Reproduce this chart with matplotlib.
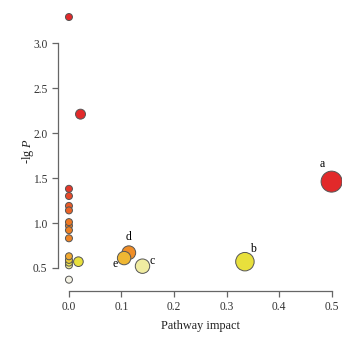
import numpy as np
import matplotlib.pyplot as plt
from matplotlib.colors import LinearSegmentedColormap, Normalize

# Pathway impact (x) and -lg P (y)
impact = [0.0, 0.022, 0.5,
          0.0, 0.0, 0.0, 0.0, 0.0, 0.0, 0.0, 0.0,
          0.0, 0.0, 0.0, 0.0, 0.0,
          0.018, 0.114, 0.105, 0.14, 0.335]
lgp = [3.29, 2.21, 1.46,
       1.38, 1.30, 1.19, 1.14, 1.01, 0.97, 0.92, 0.83,
       0.63, 0.59, 0.56, 0.53, 0.37,
       0.57, 0.67, 0.61, 0.52, 0.57]
point_labels = {2: "a", 20: "b", 19: "c", 17: "d", 18: "e"}

plt.rcParams['font.family'] = ['Liberation Serif', 'DejaVu Serif']
plt.rcParams['mathtext.fontset'] = 'custom'
plt.rcParams['mathtext.rm'] = 'Liberation Serif'
plt.rcParams['mathtext.it'] = 'Liberation Serif:italic'

fig = plt.figure(figsize=(3.62, 3.37), dpi=100)
ax = fig.add_axes([0.160, 0.1365, 0.785, 0.829])

# colour scale: white -> yellow -> orange -> red
vmin, vmax = 0.37, 1.45
nodes = [(0.37, "#f4f2e4"), (0.52, "#f0eca0"), (0.57, "#e8e03a"),
         (0.61, "#f0b432"), (0.67, "#f08e28"), (1.0, "#ee7a22"),
         (1.3, "#e84a2a"), (1.45, "#e2292a")]
cmap = LinearSegmentedColormap.from_list(
    "heat", [((v - vmin) / (vmax - vmin), c) for v, c in nodes])
norm = Normalize(vmin, vmax, clip=True)

x = np.array(impact)
y = np.array(lgp)
r_px = 3.5 + 7 * np.sqrt(x / 0.5)
sizes = (2 * r_px * 0.72) ** 2
order = np.argsort(-sizes)
ax.scatter(x[order], y[order], s=sizes[order], c=cmap(norm(y[order])),
           edgecolors="#555555", linewidths=0.7, zorder=3)

offsets = {"a": (-7, 13), "b": (6, 9), "c": (7, 3.5), "d": (0, 11), "e": (-6.5, -4.3)}
for i, lab in point_labels.items():
    ax.annotate(lab, (impact[i], lgp[i]), xytext=offsets[lab], textcoords="offset points",
                ha="center", va="center", fontsize=8.5)

ax.set_xlim(-0.021, 0.52)
ax.set_ylim(0.244, 3.35)
ax.set_xticks(np.arange(0, 0.51, 0.1))
ax.set_yticks(np.arange(0.5, 3.01, 0.5))
ax.xaxis.set_major_formatter(plt.FormatStrFormatter("%.1f"))
ax.yaxis.set_major_formatter(plt.FormatStrFormatter("%.1f"))
ax.spines["left"].set_bounds(0.5, 3.0)
ax.spines["bottom"].set_bounds(0.0, 0.5)
for s in ["top", "right"]:
    ax.spines[s].set_visible(False)
for s in ["left", "bottom"]:
    ax.spines[s].set_color("#666666")
    ax.spines[s].set_linewidth(0.9)
ax.tick_params(colors="#666666", labelcolor="#333333", labelsize=8.3, length=4, width=0.9)

ax.set_xlabel("Pathway impact", fontsize=8.8, color="#222222", labelpad=5)
ax.set_ylabel("-lg $\\it{P}$", fontsize=8.8, color="#222222", labelpad=-2)

fig.savefig("out.png", dpi=100)
